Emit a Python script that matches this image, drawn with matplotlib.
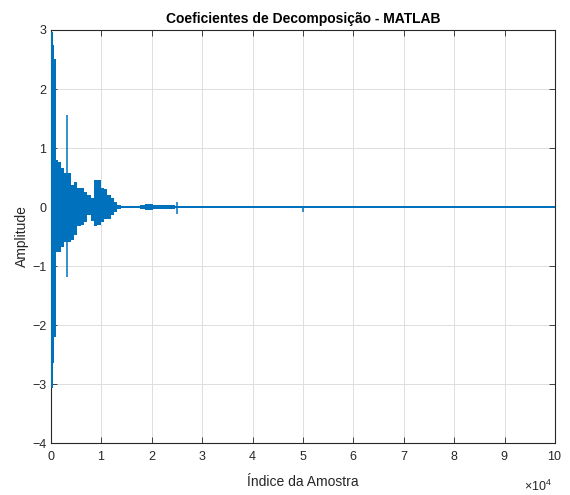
import matplotlib
matplotlib.use("Agg")
import matplotlib.pyplot as plt

# envelope of the decomposition coefficients
# (step segments: each start index holds until the next one)
seg_start = [0, 350, 650, 1000, 1300, 1920, 2580, 3900, 4560, 5220, 5880,
             6540, 7200, 7870, 8530, 9190, 9850, 10520, 11180, 11840, 12500,
             13160, 13800, 17600, 18600, 20300, 24700, 100000]
seg_hi = [2.97, 2.75, 2.50, 0.80, 0.77, 0.66, 0.57, 0.37, 0.43, 0.32, 0.32,
          0.26, 0.20, 0.15, 0.46, 0.46, 0.32, 0.30, 0.20, 0.15, 0.09,
          0.03, 0.015, 0.04, 0.05, 0.04, 0.009, 0.009]
seg_lo = [-3.07, -2.65, -2.20, -0.76, -0.76, -0.67, -0.59, -0.56, -0.47, -0.33, -0.31,
          -0.25, -0.14, -0.23, -0.33, -0.31, -0.25, -0.20, -0.20, -0.14, -0.08,
          -0.03, -0.015, -0.04, -0.05, -0.04, -0.009, -0.009]

# isolated spikes
spike_idx = [3270, 25060, 50060]
spike_hi = [1.56, 0.09, 0.01]
spike_lo = [-1.18, -0.12, -0.09]

x_ticks = list(range(0, 100001, 10000))
y_ticks = [-4, -3, -2, -1, 0, 1, 2, 3]

LINE = "#0072BD"
DARK = "#262626"

plt.rcParams["font.family"] = ["Liberation Sans", "DejaVu Sans"]
plt.rcParams["mathtext.fontset"] = "custom"
plt.rcParams["mathtext.rm"] = "Liberation Sans"

fig = plt.figure(figsize=(5.7, 4.95), dpi=100)
ax = fig.add_axes([0.0895, 0.105, 0.884, 0.8344])

ax.fill_between(seg_start, seg_lo, seg_hi, step="post", color=LINE,
                linewidth=0, zorder=3)
ax.vlines(spike_idx, spike_lo, spike_hi, color=LINE, linewidth=1.1, zorder=3)

ax.set_xlim(0, 100000)
ax.set_ylim(-4, 3)
ax.set_xticks(x_ticks)
ax.set_yticks(y_ticks)
# fixed 10^4 exponent, like MATLAB
ax.ticklabel_format(style="sci", axis="x", scilimits=(4, 4), useMathText=True)
ax.xaxis.get_offset_text().set_visible(False)

ax.grid(True, color="#dedede", linewidth=0.7)
ax.set_axisbelow(True)
for s in ax.spines.values():
    s.set_color(DARK)
    s.set_linewidth(0.8)
ax.tick_params(direction="in", length=4, width=0.6, colors=DARK, labelsize=9,
               top=True, right=True, labelcolor=DARK)
ax.tick_params(axis="x", pad=5)

ax.text(0.995, -0.105, r"$\times10^{4}$", transform=ax.transAxes, ha="right",
        va="center", fontsize=9, color=DARK)

ax.set_title("Coeficientes de Decomposição - MATLAB", fontsize=10,
             fontweight="bold", pad=5)
ax.set_xlabel("Índice da Amostra", fontsize=10, color=DARK, labelpad=9)
ax.set_ylabel("Amplitude", fontsize=10, color=DARK, labelpad=2)

fig.savefig("out.png", dpi=100)
